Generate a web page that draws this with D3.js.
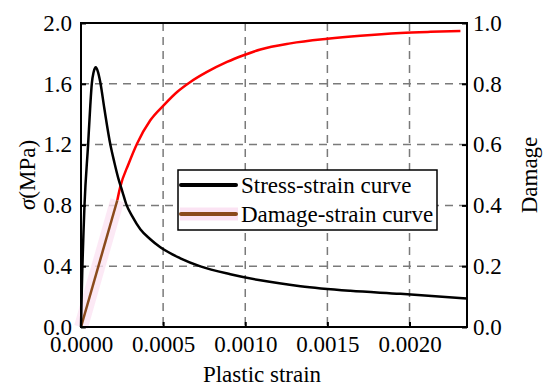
<!DOCTYPE html>
<html lang="en">
    <head>
        <meta charset="utf-8">
        <title></title>
        <script src="https://d3js.org/d3.v7.min.js"></script>
        <style type="text/css">
          body { margin: 0; background: #fff; }
          text { font-family: "Liberation Serif", "Times New Roman", serif; }
        </style>
    </head>
    <body>

    <svg width="550" height="391" id="svg1"></svg>

    <script>

      // stress-strain curve
      var stressStrain = [0, 0.0000049, 0.0000213, 0.0000432, 0.0000566, 0.0000658, 0.0000767, 0.0000901, 0.0001023,
                          0.0001175, 0.0001419, 0.0001784, 0.0002028, 0.0002272, 0.0002515, 0.0002759, 0.0003124,
                          0.0003611, 0.000422, 0.000483, 0.000605, 0.000727, 0.000909, 0.001092, 0.001336,
                          0.00164, 0.001945, 0.00235];
      var stress = [0, 0.242, 0.801, 1.2, 1.457, 1.601, 1.676, 1.709, 1.682,
                    1.61, 1.439, 1.202, 1.084, 0.978, 0.893, 0.807, 0.728,
                    0.643, 0.577, 0.524, 0.452, 0.399, 0.347, 0.307, 0.268,
                    0.238, 0.218, 0.187];

      // damage-strain curve (first segment drawn brown)
      var damageStrain = [0, 0.000221, 0.000239, 0.00029, 0.000341, 0.000422, 0.000503, 0.000585, 0.000666,
                          0.000767, 0.000889, 0.00099, 0.001092, 0.001275, 0.0015, 0.001701, 0.001945,
                          0.002128, 0.00231];
      var damage = [0, 0.417, 0.461, 0.537, 0.603, 0.68, 0.729, 0.773, 0.806,
                    0.839, 0.872, 0.894, 0.913, 0.933, 0.948, 0.958, 0.967,
                    0.971, 0.974];

      var xTicks = [0, 0.0005, 0.0010, 0.0015, 0.0020];
      var yTicks = [0, 0.4, 0.8, 1.2, 1.6, 2.0];
      var y2Ticks = [0, 0.2, 0.4, 0.6, 0.8, 1.0];
      var legendNames = ["Stress-strain curve", "Damage-strain curve"];

      var svg1 = d3.select("#svg1")
      var margin = {top: 23, right: 83, bottom: 64, left: 81}
      var width = svg1.attr("width") - margin.left - margin.right
      var height = svg1.attr("height") - margin.top - margin.bottom
      var g1 = svg1.append("g").attr("transform", `translate(${margin.left}, ${margin.top})`);

      var xScale = d3.scaleLinear().domain([0, 0.00235]).range([0, width]);
      var yScale = d3.scaleLinear().domain([0, 2]).range([height, 0]);
      var y2Scale = d3.scaleLinear().domain([0, 1]).range([height, 0]);

      // dashed grid
      g1.append("g").selectAll("line").data(xTicks.slice(1)).enter().append("line")
        .attr("x1", function(d) {return xScale(d);}).attr("x2", function(d) {return xScale(d);})
        .attr("y1", 0).attr("y2", height)
        .attr("stroke", "#7a7a7a").attr("stroke-width", 1.5).attr("stroke-dasharray", "8,6");
      g1.append("g").selectAll("line").data(yTicks.slice(1, -1)).enter().append("line")
        .attr("x1", 0).attr("x2", width)
        .attr("y1", function(d) {return yScale(d);}).attr("y2", function(d) {return yScale(d);})
        .attr("stroke", "#7a7a7a").attr("stroke-width", 1.5).attr("stroke-dasharray", "8,6");

      // axes
      var xAxis = d3.axisBottom(xScale).tickValues(xTicks).tickFormat(d3.format(".4f")).tickSizeInner(-5).tickSizeOuter(0).tickPadding(9);
      var yAxis = d3.axisLeft(yScale).tickValues(yTicks).tickFormat(d3.format(".1f")).tickSizeInner(-5).tickSizeOuter(0).tickPadding(9);
      var y2Axis = d3.axisRight(y2Scale).tickValues(y2Ticks).tickFormat(d3.format(".1f")).tickSizeInner(-5).tickSizeOuter(0).tickPadding(6);

      var gx = g1.append("g").attr("transform", `translate(0, ${height})`).call(xAxis);
      var gy = g1.append("g").call(yAxis);
      var gy2 = g1.append("g").attr("transform", `translate(${width}, 0)`).call(y2Axis);
      [gx, gy, gy2].forEach(function(a) {
        a.select(".domain").remove();
        a.selectAll(".tick line").attr("stroke", "#000").attr("stroke-width", 2);
        a.selectAll(".tick text").attr("font-size", 23).attr("fill", "#000")
          .style("font-family", "'Liberation Serif', 'Times New Roman', serif");
      });

      // curves
      var line = d3.line()
        .x(function(d) {return xScale(d[0]);})
        .y(function(d) {return d[2](d[1]);})
        .curve(d3.curveMonotoneX);
      var straight = d3.line()
        .x(function(d) {return xScale(d[0]);})
        .y(function(d) {return d[2](d[1]);});

      var stressData = stressStrain.map(function(s, i) {return [s, stress[i], yScale];});
      var damageData = damageStrain.map(function(s, i) {return [s, damage[i], y2Scale];});
      var brownData = damageData.slice(0, 2);

      g1.append("path").datum(damageData.slice(1)).attr("d", line)
        .attr("fill", "none").attr("stroke", "#ff0000").attr("stroke-width", 2.5);
      g1.append("path").datum(brownData).attr("d", straight)
        .attr("fill", "none").attr("stroke", "#fbe3f3").attr("stroke-width", 14).attr("opacity", 0.8);
      g1.append("path").datum(brownData).attr("d", straight)
        .attr("fill", "none").attr("stroke", "#8b4a1c").attr("stroke-width", 2.5);
      g1.append("path").datum(stressData).attr("d", line)
        .attr("fill", "none").attr("stroke", "#000").attr("stroke-width", 2.5);

      // frame
      g1.append("rect").attr("x", 0).attr("y", 0).attr("width", width).attr("height", height)
        .attr("fill", "none").attr("stroke", "#000").attr("stroke-width", 2);

      // legend
      var lg = svg1.append("g").attr("transform", "translate(178, 170)");
      lg.append("rect").attr("x", 0).attr("y", 0).attr("width", 259).attr("height", 60)
        .attr("fill", "#fff").attr("stroke", "#000").attr("stroke-width", 1.5);
      lg.append("line").attr("x1", 2).attr("x2", 60).attr("y1", 44).attr("y2", 44)
        .attr("stroke", "#fbe3f3").attr("stroke-width", 13);
      var legendColors = ["#000", "#8b4a1c"];
      lg.selectAll(".lline").data(legendNames).enter().append("line").attr("class", "lline")
        .attr("x1", 3).attr("x2", 58)
        .attr("y1", function(d, i) {return 15 + i * 29;}).attr("y2", function(d, i) {return 15 + i * 29;})
        .attr("stroke", function(d, i) {return legendColors[i];}).attr("stroke-width", 4).attr("stroke-linecap", "round");
      lg.selectAll(".ltext").data(legendNames).enter().append("text").attr("class", "ltext")
        .attr("x", 63).attr("y", function(d, i) {return 15 + i * 29;}).attr("dy", "0.35em")
        .attr("font-size", 23).text(function(d) {return d;});

      // axis titles
      svg1.append("text").attr("x", 262).attr("y", 382).attr("text-anchor", "middle")
        .attr("font-size", 23).text("Plastic strain");
      var yt = svg1.append("text").attr("transform", "translate(35, 175) rotate(-90)")
        .attr("text-anchor", "middle").attr("font-size", 23);
      yt.append("tspan").attr("font-style", "italic").text("σ");
      yt.append("tspan").text("(MPa)");
      svg1.append("text").attr("transform", "translate(537, 175) rotate(-90)")
        .attr("text-anchor", "middle").attr("font-size", 23).text("Damage");

    </script>

    </body>
</html>
